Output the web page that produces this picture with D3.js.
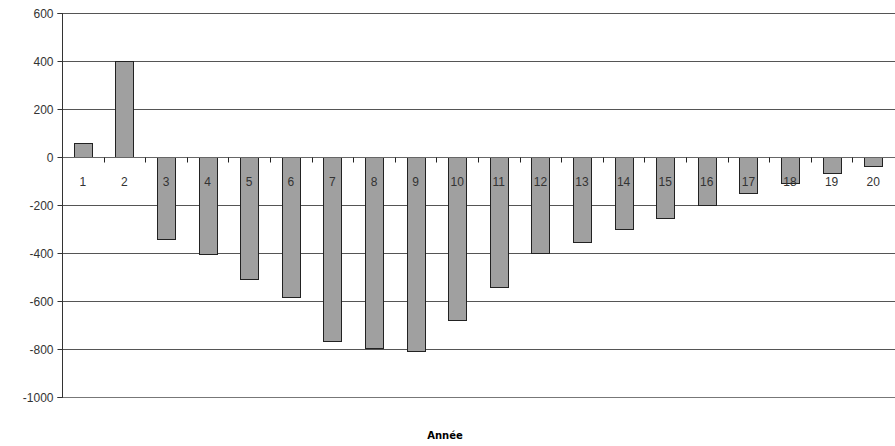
<!DOCTYPE html>
<html>
<head>
<meta charset="utf-8">
<script src="https://cdn.jsdelivr.net/npm/d3@7"></script>
<style>
  html, body { margin: 0; padding: 0; background: #fff; }
  svg { display: block; }
  .tick text { font-family: "Liberation Sans", Arial, sans-serif; }
</style>
</head>
<body>
<svg id="chart" width="895" height="446"></svg>
<script>
// Yearly balance, years 1..20
const years = ["1","2","3","4","5","6","7","8","9","10","11","12","13","14","15","16","17","18","19","20"];
const values = [60, 402, -342, -405, -510, -585, -765, -795, -810, -680, -540, -398, -355, -300, -255, -200, -150, -110, -68, -38];
const yTicks = [600, 400, 200, 0, -200, -400, -600, -800, -1000];
const xTitle = "Année";

const svg = d3.select("#chart");
const plotLeft = 62, plotRight = 894, plotTop = 13, plotBottom = 397;

const x = d3.scaleBand().domain(years).range([plotLeft, plotRight]).paddingInner(0.57).paddingOuter(0.285);
const xb = d3.scaleBand().domain(years).range([plotLeft, plotRight]);
const y = d3.scaleLinear().domain([-1000, 600]).range([plotBottom, plotTop]);

// horizontal gridlines
svg.append("g")
  .selectAll("line")
  .data(yTicks.filter(d => d !== -1000 && d !== 0))
  .join("line")
  .attr("x1", plotLeft).attr("x2", 895)
  .attr("y1", d => Math.round(y(d)) + 0.5).attr("y2", d => Math.round(y(d)) + 0.5)
  .attr("stroke", "#555").attr("stroke-width", 1);

// bottom boundary
svg.append("line")
  .attr("x1", plotLeft).attr("x2", 895)
  .attr("y1", Math.round(y(-1000)) + 0.5).attr("y2", Math.round(y(-1000)) + 0.5)
  .attr("stroke", "#777");

// bars
svg.append("g")
  .selectAll("rect")
  .data(values)
  .join("rect")
  .attr("x", (d, i) => Math.round(x(years[i])) + 0.5)
  .attr("width", Math.round(x.bandwidth()))
  .attr("y", d => Math.round(y(Math.max(0, d))) + 0.5)
  .attr("height", d => Math.round(Math.abs(y(d) - y(0))))
  .attr("fill", "#a0a0a0")
  .attr("stroke", "#222")
  .attr("stroke-width", 1);

// zero axis with category ticks pointing down
const zeroY = Math.round(y(0)) + 0.5;
svg.append("line")
  .attr("x1", plotLeft).attr("x2", 895)
  .attr("y1", zeroY).attr("y2", zeroY)
  .attr("stroke", "#666");
svg.append("g")
  .selectAll("line")
  .data(years.slice(1))
  .join("line")
  .attr("x1", d => Math.round(xb(d)) + 0.5).attr("x2", d => Math.round(xb(d)) + 0.5)
  .attr("y1", zeroY).attr("y2", zeroY + 5)
  .attr("stroke", "#222");

// category labels
svg.append("g")
  .selectAll("text")
  .data(years)
  .join("text")
  .attr("x", d => xb(d) + xb.bandwidth() / 2)
  .attr("y", zeroY + 28)
  .attr("text-anchor", "middle")
  .attr("font-family", "'Liberation Sans', Arial, sans-serif")
  .attr("font-size", 12)
  .attr("fill", "#333")
  .text(d => d);

// y axis
const yAxis = d3.axisLeft(y).tickValues(yTicks).tickSize(5).tickPadding(4).tickFormat(d3.format("d"));
const gy = svg.append("g").attr("transform", `translate(${plotLeft + 0.5},0)`).call(yAxis);
gy.select(".domain").attr("stroke", "#333").attr("d", `M-5,${Math.round(y(600)) + 0.5}H0V${Math.round(y(-1000)) + 0.5}H-5`);
gy.selectAll(".tick line").attr("stroke", "#333");
gy.selectAll(".tick text").attr("font-size", 12).attr("fill", "#333").attr("dy", "0.34em")
  .text(d => d < 0 ? "-" + Math.abs(d) : d);

// x axis title
svg.append("text")
  .attr("x", 445).attr("y", 439)
  .attr("text-anchor", "middle")
  .attr("font-family", "'DejaVu Sans', Verdana, sans-serif")
  .attr("font-weight", "bold")
  .attr("font-size", 10)
  .attr("fill", "#000")
  .text(xTitle);
</script>
</body>
</html>
